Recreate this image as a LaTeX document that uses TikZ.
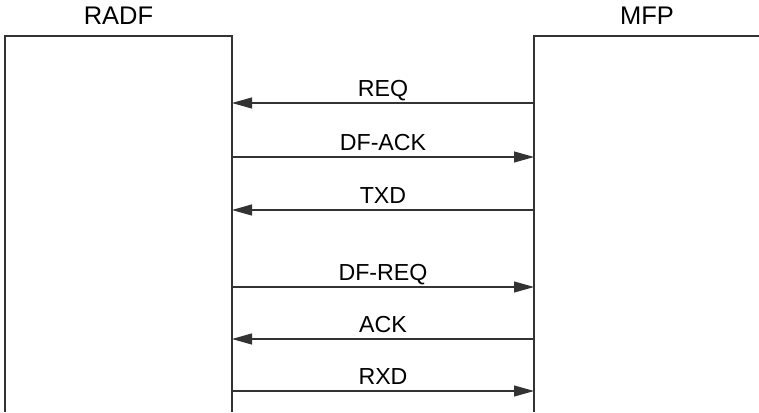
\documentclass[tikz,border=0pt]{standalone}
\usepackage{fontspec}
\setmainfont{Liberation Sans}
\usetikzlibrary{arrows.meta, positioning}

\begin{document}
\begin{tikzpicture}[x=0.02cm, y=-0.02cm,
    wire/.style={draw=black!80, line width=0.6pt},
    msg/.style={wire, -{Triangle[length=0.4cm, width=0.22cm]}},
    title/.style={font=\fontsize{14.5}{17}\selectfont, inner sep=0pt, anchor=base},
    tag/.style={font=\fontsize{13.2}{15}\selectfont, inner sep=0pt, anchor=base, yshift=0.14cm}]

    \useasboundingbox (0,0) rectangle (759,412);

    % Units
    \draw [wire] (5,412) -- (5,36) -- (232,36) -- (232,412);
    \draw [wire] (534,412) -- (534,36) -- (760,36);
    \node [title] (radf) at (118.5,25) {RADF};
    \node [title] (mfp) at (647,25) {MFP};

    % Message ends
    \foreach \y [count=\i] in {103, 157, 210, 287, 339, 391} {
        \coordinate (radf\i) at (232,\y);
        \coordinate (mfp\i) at (534,\y);
    }

    % Messages
    \draw [msg] (mfp1) -- node[tag]{REQ} (radf1);
    \draw [msg] (radf2) -- node[tag]{DF-ACK} (mfp2);
    \draw [msg] (mfp3) -- node[tag]{TXD} (radf3);
    \draw [msg] (radf4) -- node[tag]{DF-REQ} (mfp4);
    \draw [msg] (mfp5) -- node[tag]{ACK} (radf5);
    \draw [msg] (radf6) -- node[tag]{RXD} (mfp6);
\end{tikzpicture}
\end{document}
